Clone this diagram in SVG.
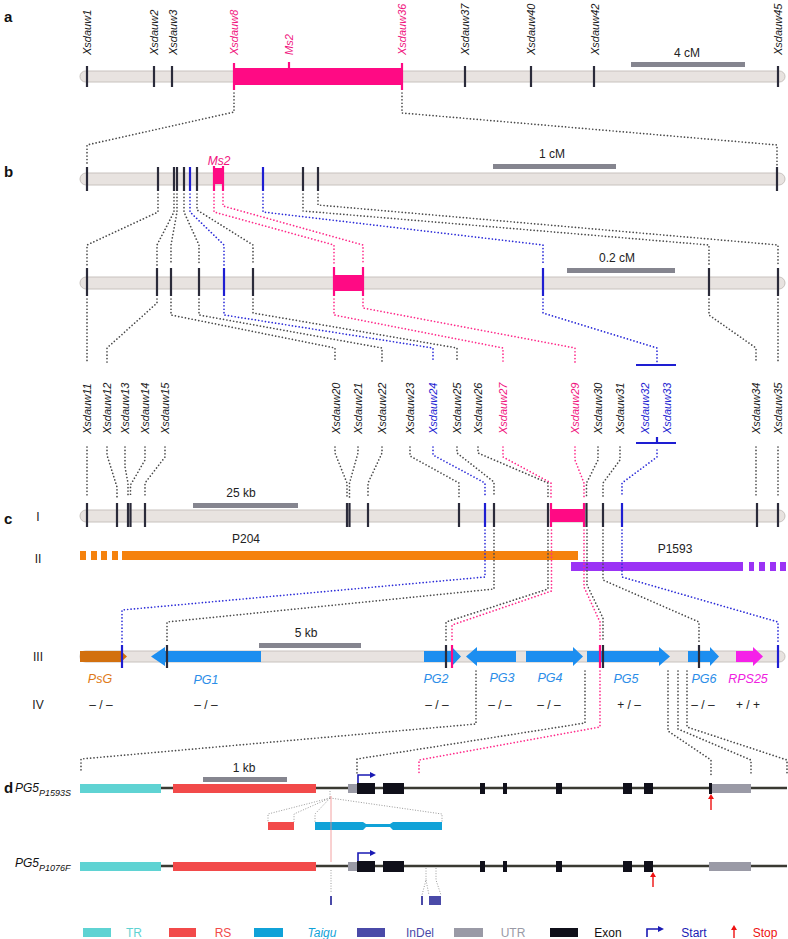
<svg xmlns="http://www.w3.org/2000/svg" width="788" height="939" viewBox="0 0 788 939">
<style>
text{font-family:"Liberation Sans",Arial,sans-serif}
.bar{fill:#e8e3e0;stroke:#c8c2be;stroke-width:1}
.tk{stroke:#2b2b3a;stroke-width:2.2}
.tb{stroke:#1e1ed2;stroke-width:2.2}
.tp{stroke:#ff0a84;stroke-width:2.2}
.d{fill:none;stroke-width:1.7;stroke-dasharray:0.01 3.4;stroke-linecap:round}
.dk{stroke:#4a4a4a}
.dp{stroke:#ff2a8a}
.db{stroke:#2a2ad8}
.df{fill:none;stroke:#9a9a9a;stroke-width:1;stroke-dasharray:1 1.6}
.ml{font-size:11px;font-style:italic;fill:#1a1a1a}
.mb{fill:#1e1ed2}
.mp{fill:#f0147e}
.sc{fill:#85858f}
.st{font-size:12px;fill:#222;text-anchor:middle}
.pl{font-size:15px;font-weight:bold;fill:#111}
.rl{font-size:12px;fill:#222;text-anchor:middle}
.gl{font-size:12.5px;font-style:italic;text-anchor:middle}
.gb{fill:#1c8ef0}
.gt{font-size:12px;fill:#222;text-anchor:middle}
.gln{stroke:#3a3a32;stroke-width:2.5}
.tr{fill:#5fd3d3}
.rs{fill:#f24a4a}
.tg{fill:#10a2d8}
.utr{fill:#9a9aa6}
.ex{fill:#10101a}
.lg{font-size:12px;text-anchor:middle}
</style>

<!-- Panel a -->
<g id="panel-a">
<text class="pl" x="4" y="22">a</text>
<rect class="bar" x="80" y="71" width="705" height="11" rx="5.5"/>
<rect x="234" y="68" width="168" height="17" fill="#ff0a84"/>
<line class="tp" x1="234" y1="63" x2="234" y2="90"/>
<line class="tp" x1="402" y1="63" x2="402" y2="90"/>
<line class="tp" x1="289" y1="62" x2="289" y2="69"/>
<g class="tk">
<line x1="87" y1="66" x2="87" y2="87"/><line x1="154" y1="66" x2="154" y2="87"/><line x1="172" y1="66" x2="172" y2="87"/>
<line x1="465" y1="66" x2="465" y2="87"/><line x1="531" y1="66" x2="531" y2="87"/><line x1="594" y1="66" x2="594" y2="87"/><line x1="778" y1="66" x2="778" y2="87"/>
</g>
<rect class="sc" x="631" y="62" width="114" height="5"/>
<text class="st" x="687" y="57">4 cM</text>
<text class="ml" transform="translate(91,55) rotate(-90)">Xsdauw1</text>
<text class="ml" transform="translate(158,55) rotate(-90)">Xsdauw2</text>
<text class="ml" transform="translate(177,55) rotate(-90)">Xsdauw3</text>
<text class="ml mp" transform="translate(238,55) rotate(-90)">Xsdauw8</text>
<text class="ml mp" transform="translate(293,55) rotate(-90)">Ms2</text>
<text class="ml mp" transform="translate(406,55) rotate(-90)">Xsdauw36</text>
<text class="ml" transform="translate(469,55) rotate(-90)">Xsdauw37</text>
<text class="ml" transform="translate(535,55) rotate(-90)">Xsdauw40</text>
<text class="ml" transform="translate(599,55) rotate(-90)">Xsdauw42</text>
<text class="ml" transform="translate(782,55) rotate(-90)">Xsdauw45</text>
</g>

<!-- Panel b -->
<g id="panel-b">
<text class="pl" x="4" y="177">b</text>
<rect class="bar" x="80" y="173" width="705" height="12" rx="6"/>
<rect x="214" y="168" width="9" height="16" fill="#ff0a84"/>
<line class="tp" x1="214" y1="166" x2="214" y2="191"/>
<line class="tp" x1="223" y1="166" x2="223" y2="191"/>
<text class="gl mp" x="219" y="165" style="font-size:12px">Ms2</text>
<g class="tk">
<line x1="87" y1="167" x2="87" y2="191"/><line x1="158" y1="167" x2="158" y2="191"/><line x1="174" y1="167" x2="174" y2="191"/><line x1="177" y1="167" x2="177" y2="191"/><line x1="184" y1="167" x2="184" y2="191"/><line x1="197" y1="167" x2="197" y2="191"/><line x1="303" y1="167" x2="303" y2="191"/><line x1="318" y1="167" x2="318" y2="191"/><line x1="777" y1="167" x2="777" y2="191"/>
</g>
<g class="tb"><line x1="190" y1="167" x2="190" y2="191"/><line x1="263" y1="167" x2="263" y2="191"/></g>
<rect class="sc" x="493" y="164" width="123" height="5"/>
<text class="st" x="552" y="158">1 cM</text>

<rect class="bar" x="80" y="277" width="705" height="12" rx="6"/>
<rect x="334" y="275" width="29" height="16" fill="#ff0a84"/>
<line class="tp" x1="334" y1="267" x2="334" y2="296"/>
<line class="tp" x1="363" y1="267" x2="363" y2="296"/>
<g class="tk">
<line x1="87" y1="268" x2="87" y2="296"/><line x1="157" y1="268" x2="157" y2="296"/><line x1="171" y1="268" x2="171" y2="296"/><line x1="199" y1="268" x2="199" y2="296"/><line x1="253" y1="268" x2="253" y2="296"/><line x1="709" y1="268" x2="709" y2="296"/><line x1="778" y1="268" x2="778" y2="296"/>
</g>
<g class="tb"><line x1="224" y1="268" x2="224" y2="296"/><line x1="543" y1="268" x2="543" y2="296"/></g>
<rect class="sc" x="567" y="268" width="108" height="5"/>
<text class="st" x="617" y="262">0.2 cM</text>

<text class="ml" transform="translate(91,434) rotate(-90)">Xsdauw11</text>
<text class="ml" transform="translate(111,434) rotate(-90)">Xsdauw12</text>
<text class="ml" transform="translate(129,434) rotate(-90)">Xsdauw13</text>
<text class="ml" transform="translate(149,434) rotate(-90)">Xsdauw14</text>
<text class="ml" transform="translate(169,434) rotate(-90)">Xsdauw15</text>
<text class="ml" transform="translate(340,434) rotate(-90)">Xsdauw20</text>
<text class="ml" transform="translate(362,434) rotate(-90)">Xsdauw21</text>
<text class="ml" transform="translate(386,434) rotate(-90)">Xsdauw22</text>
<text class="ml" transform="translate(414,434) rotate(-90)">Xsdauw23</text>
<text class="ml mb" transform="translate(437,434) rotate(-90)">Xsdauw24</text>
<text class="ml" transform="translate(461,434) rotate(-90)">Xsdauw25</text>
<text class="ml" transform="translate(482,434) rotate(-90)">Xsdauw26</text>
<text class="ml mp" transform="translate(507,434) rotate(-90)">Xsdauw27</text>
<text class="ml mp" transform="translate(579,434) rotate(-90)">Xsdauw29</text>
<text class="ml" transform="translate(602,434) rotate(-90)">Xsdauw30</text>
<text class="ml" transform="translate(624,434) rotate(-90)">Xsdauw31</text>
<text class="ml mb" transform="translate(649,434) rotate(-90)">Xsdauw32</text>
<text class="ml mb" transform="translate(671,434) rotate(-90)">Xsdauw33</text>
<text class="ml" transform="translate(760,434) rotate(-90)">Xsdauw34</text>
<text class="ml" transform="translate(782,434) rotate(-90)">Xsdauw35</text>
<g class="tb">
<line x1="636" y1="365" x2="676" y2="365"/>
<line x1="636" y1="443" x2="676" y2="443"/>
<line x1="657" y1="437" x2="657" y2="443"/>
</g>
</g>

<!-- Panel c -->
<g id="panel-c">
<text class="pl" x="4" y="524">c</text>
<text class="rl" x="38" y="521">I</text>
<rect class="bar" x="80" y="510" width="705" height="12" rx="6"/>
<rect x="551" y="509" width="33" height="13" fill="#ff0a84"/>
<line class="tp" x1="551" y1="503" x2="551" y2="527"/>
<line class="tp" x1="584" y1="503" x2="584" y2="527"/>
<g class="tk">
<line x1="87" y1="503" x2="87" y2="527"/><line x1="117" y1="503" x2="117" y2="527"/><line x1="128" y1="503" x2="128" y2="527"/><line x1="130.5" y1="503" x2="130.5" y2="527"/><line x1="145" y1="503" x2="145" y2="527"/><line x1="347" y1="503" x2="347" y2="527"/><line x1="349.5" y1="503" x2="349.5" y2="527"/><line x1="368" y1="503" x2="368" y2="527"/><line x1="459" y1="503" x2="459" y2="527"/><line x1="494" y1="503" x2="494" y2="527"/><line x1="548" y1="503" x2="548" y2="527"/><line x1="586.5" y1="503" x2="586.5" y2="527"/><line x1="603" y1="503" x2="603" y2="527"/><line x1="757" y1="503" x2="757" y2="527"/><line x1="778" y1="503" x2="778" y2="527"/>
</g>
<g class="tb"><line x1="485" y1="503" x2="485" y2="527"/><line x1="622" y1="503" x2="622" y2="527"/></g>
<rect class="sc" x="193" y="503" width="105" height="5"/>
<text class="st" x="241" y="497">25 kb</text>

<text class="rl" x="38" y="563">II</text>
<g fill="#f5820d">
<rect x="80" y="551" width="6" height="9"/><rect x="91" y="551" width="6" height="9"/><rect x="101" y="551" width="6" height="9"/><rect x="112" y="551" width="6" height="9"/>
<rect x="122" y="551" width="456" height="9"/>
</g>
<text class="st" x="246" y="543">P204</text>
<g fill="#9b33f5">
<rect x="571" y="562" width="172" height="9"/>
<rect x="749" y="562" width="5" height="9"/><rect x="759" y="562" width="6" height="9"/><rect x="770" y="562" width="6" height="9"/><rect x="780" y="562" width="6" height="9"/>
</g>
<text class="st" x="675" y="553">P1593</text>

<text class="rl" x="38" y="661">III</text>
<rect class="bar" x="80" y="651" width="705" height="11" rx="5.5"/>
<path d="M80,651 H121 L127,656.5 L121,662 H80 Z" fill="#d2700f"/>
<path class="gb" d="M151,656.5 L165,647 V651 H261 V662 H165 V666 Z"/>
<path class="gb" d="M424,651 H452 V647 L461,656.5 L452,666 V662 H424 Z"/>
<path class="gb" d="M466,656.5 L477,647 V651 H516 V662 H477 V666 Z"/>
<path class="gb" d="M526,651 H573 V647 L583,656.5 L573,666 V662 H526 Z"/>
<path class="gb" d="M587,651 H659 V647 L670,656.5 L659,666 V662 H587 Z"/>
<path class="gb" d="M688,651 H710 V647 L719,656.5 L710,666 V662 H688 Z"/>
<path d="M736,651 H753 V647 L763,656.5 L753,666 V662 H736 Z" fill="#f521e8"/>
<g class="tk"><line x1="167" y1="645" x2="167" y2="668"/><line x1="446" y1="645" x2="446" y2="668"/><line x1="603" y1="645" x2="603" y2="668"/><line x1="699" y1="645" x2="699" y2="668"/></g>
<g class="tb"><line x1="122" y1="645" x2="122" y2="668"/><line x1="778" y1="645" x2="778" y2="668"/></g>
<g class="tp"><line x1="452" y1="645" x2="452" y2="668"/><line x1="600" y1="645" x2="600" y2="668"/></g>
<rect class="sc" x="259" y="643" width="102" height="5"/>
<text class="st" x="306" y="637">5 kb</text>
<text class="gl" x="100" y="683" fill="#e07a18">PsG</text>
<text class="gl" x="206" y="684" fill="#2b8de8">PG1</text>
<text class="gl" x="436" y="683" fill="#2b8de8">PG2</text>
<text class="gl" x="502" y="682" fill="#2b8de8">PG3</text>
<text class="gl" x="550" y="682" fill="#2b8de8">PG4</text>
<text class="gl" x="626" y="683" fill="#2b8de8">PG5</text>
<text class="gl" x="704" y="683" fill="#2b8de8">PG6</text>
<text class="gl" x="748" y="683" fill="#f020e0">RPS25</text>

<text class="rl" x="38" y="709">IV</text>
<text class="gt" x="101" y="709">– / –</text>
<text class="gt" x="206" y="709">– / –</text>
<text class="gt" x="437" y="709">– / –</text>
<text class="gt" x="500" y="709">– / –</text>
<text class="gt" x="549" y="709">– / –</text>
<text class="gt" x="629" y="709">+ / –</text>
<text class="gt" x="703" y="709">– / –</text>
<text class="gt" x="748" y="709">+ / +</text>
</g>

<!-- Panel d -->
<g id="panel-d">
<text class="pl" x="4" y="793">d</text>
<text x="15" y="792" style="font-size:12px;font-style:italic" fill="#111">PG5<tspan dy="4" style="font-size:9px">P1593S</tspan></text>
<line class="gln" x1="80" y1="788" x2="787" y2="788"/>
<rect class="tr" x="80" y="784" width="81" height="9"/>
<rect class="rs" x="173" y="784" width="143" height="9"/>
<rect class="utr" x="348" y="784" width="9" height="9"/>
<g class="ex">
<rect x="357" y="783" width="18" height="11"/><rect x="383" y="783" width="21" height="11"/><rect x="480" y="783" width="5" height="11"/><rect x="503" y="783" width="4" height="11"/><rect x="556" y="783" width="6" height="11"/><rect x="623" y="783" width="9" height="11"/><rect x="644" y="783" width="9" height="11"/><rect x="709" y="783" width="3" height="11"/>
</g>
<rect class="utr" x="712" y="784" width="39" height="9"/>
<rect class="sc" x="203" y="777" width="84" height="5"/>
<text class="st" x="244" y="772">1 kb</text>
<path d="M358,783 V775 H371" fill="none" stroke="#1a1ab4" stroke-width="1.6"/>
<path d="M370,772 L376,775 L370,778 Z" fill="#1a1ab4"/>
<line x1="711" y1="810" x2="711" y2="798" stroke="#ee1111" stroke-width="1.4"/>
<path d="M708,799 L711,794 L714,799 Z" fill="#ee1111"/>

<rect class="rs" x="268" y="822" width="26" height="8"/>
<path class="tg" d="M315,822 H363 L366,824 H390 L393,822 H442 V830 H393 L390,827 H366 L363,830 H315 Z"/>
<path class="df" d="M330,791 V798 M330,798 L268,814 V822 M330,798 L294,814 V822 M330,798 L315,814 V822 M330,798 L442,814 V822"/>
<line x1="331" y1="796" x2="331" y2="862" stroke="#f08a8a" stroke-width="0.8"/>

<text x="15" y="867" style="font-size:12px;font-style:italic" fill="#111">PG5<tspan dy="4" style="font-size:9px">P1076F</tspan></text>
<line class="gln" x1="80" y1="866" x2="787" y2="866"/>
<rect class="tr" x="80" y="862" width="81" height="9"/>
<rect class="rs" x="173" y="862" width="143" height="9"/>
<rect class="utr" x="348" y="862" width="9" height="9"/>
<g class="ex">
<rect x="357" y="861" width="18" height="11"/><rect x="383" y="861" width="21" height="11"/><rect x="480" y="861" width="5" height="11"/><rect x="503" y="861" width="4" height="11"/><rect x="556" y="861" width="6" height="11"/><rect x="623" y="861" width="9" height="11"/><rect x="644" y="861" width="9" height="11"/>
</g>
<rect class="utr" x="709" y="862" width="42" height="9"/>
<path d="M358,861 V853 H371" fill="none" stroke="#1a1ab4" stroke-width="1.6"/>
<path d="M370,850 L376,853 L370,856 Z" fill="#1a1ab4"/>
<line x1="653" y1="887" x2="653" y2="876" stroke="#ee1111" stroke-width="1.4"/>
<path d="M650,877 L653,872 L656,877 Z" fill="#ee1111"/>

<path class="df" d="M331,870 V893 M426,868 V880 L422,895 M426,880 L429,895 M436,868 V880 L441,895"/>
<g fill="#4a4aa8">
<rect x="330" y="896" width="2" height="9"/>
<rect x="421" y="896" width="2" height="9"/>
<rect x="429" y="896" width="12" height="9"/>
</g>

<!-- legend -->
<rect class="tr" x="83" y="928" width="28" height="9"/>
<text class="lg" x="134" y="937" fill="#5fd3d3">TR</text>
<rect class="rs" x="169" y="928" width="27" height="9"/>
<text class="lg" x="223" y="937" fill="#f24a4a">RS</text>
<rect class="tg" x="254" y="928" width="29" height="9"/>
<text class="lg" x="322" y="937" fill="#10a2d8" style="font-style:italic">Taigu</text>
<rect x="357" y="928" width="28" height="9" fill="#4a4aa8"/>
<text class="lg" x="420" y="937" fill="#4a4aa8">InDel</text>
<rect class="utr" x="454" y="928" width="29" height="9"/>
<text class="lg" x="513" y="937" fill="#9a9aa6">UTR</text>
<rect class="ex" x="550" y="928" width="28" height="9"/>
<text class="lg" x="608" y="937" fill="#111">Exon</text>
<path d="M647,937 V929 H659" fill="none" stroke="#1a1ab4" stroke-width="1.6"/>
<path d="M658,926 L664,929 L658,932 Z" fill="#1a1ab4"/>
<text class="lg" x="694" y="937" fill="#1a1ab4">Start</text>
<line x1="734" y1="938" x2="734" y2="929" stroke="#ee1111" stroke-width="1.4"/>
<path d="M731,930 L734,925 L737,930 Z" fill="#ee1111"/>
<text class="lg" x="765" y="937" fill="#ee1111">Stop</text>
</g>

<!-- Connectors -->
<g id="connectors">
<!-- a to b -->
<path class="d dk" d="M234,93 V112 L87,145 V165"/>
<path class="d dk" d="M402,93 V113 L777,145 V165"/>
<!-- b1 to b2 -->
<path class="d dk" d="M158,194 V212 L87,245 V265"/>
<path class="d dk" d="M174,194 V212 L157,245 V265"/>
<path class="d dk" d="M177,194 V212 L171,245 V265"/>
<path class="d dk" d="M184,194 V212 L199,245 V265"/>
<path class="d db" d="M190,194 V212 L224,245 V265"/>
<path class="d dk" d="M197,194 V210 L253,245 V265"/>
<path class="d dp" d="M214,194 V212 L334,245 V264"/>
<path class="d dp" d="M223,194 V206 L363,245 V264"/>
<path class="d db" d="M263,194 V212 L543,245 V265"/>
<path class="d dk" d="M303,194 V211 L709,245 V265"/>
<path class="d dk" d="M318,194 V205 L778,245 V265"/>
<!-- b2 to marker labels -->
<path class="d dk" d="M87,299 V362"/>
<path class="d dk" d="M157,299 V303 L107,348 V362"/>
<path class="d dk" d="M171,299 V315 L335,348 V362"/>
<path class="d dk" d="M199,299 V315 L382,348 V362"/>
<path class="d db" d="M224,299 V315 L433,348 V362"/>
<path class="d dk" d="M253,299 V313 L457,348 V362"/>
<path class="d dp" d="M334,299 V315 L503,348 V362"/>
<path class="d dp" d="M363,299 V308 L575,348 V362"/>
<path class="d db" d="M543,299 V313 L657,348 V362"/>
<path class="d dk" d="M709,299 V315 L756,348 V362"/>
<path class="d dk" d="M778,299 V362"/>
<!-- marker labels to c I -->
<path class="d dk" d="M87,447 V497"/>
<path class="d dk" d="M107,447 V455 L117,487 V497"/>
<path class="d dk" d="M125,447 V467 L128,483 V497"/>
<path class="d dk" d="M145,447 V460 L130.5,485 V497"/>
<path class="d dk" d="M165,447 V457 L145,483 V497"/>
<path class="d dk" d="M335,447 V453 L347,483 V497"/>
<path class="d dk" d="M358,447 V453 L349.5,483 V497"/>
<path class="d dk" d="M382,447 V453 L368,483 V497"/>
<path class="d dk" d="M410,447 V456 L459,483 V497"/>
<path class="d db" d="M433,447 V455 L485,483 V497"/>
<path class="d dk" d="M457,447 V453 L494,482 V497"/>
<path class="d dk" d="M478,447 V453 L548,483 V497"/>
<path class="d dp" d="M503,447 V457 L551,483 V497"/>
<path class="d dp" d="M575,447 V460 L584,483 V497"/>
<path class="d dk" d="M598,447 V460 L586.5,483 V497"/>
<path class="d dk" d="M620,447 V460 L603,483 V497"/>
<path class="d db" d="M657,450 V457 L622,483 V497"/>
<path class="d dk" d="M756,447 V497"/>
<path class="d dk" d="M778,447 V497"/>
<!-- c I to III -->
<path class="d db" d="M485,530 V577 L122,610 V642"/>
<path class="d dk" d="M494,530 V589 L167,622 V642"/>
<path class="d dk" d="M548,530 V589 L446,622 V642"/>
<path class="d dp" d="M551.5,530 V591 L452,625 V642"/>
<path class="d dp" d="M584,530 V587 L600,622 V642"/>
<path class="d dk" d="M587,530 V585 L603,618 V642"/>
<path class="d dk" d="M603,530 V580 L699,622 V642"/>
<path class="d db" d="M622,530 V577 L778,622 V642"/>
<!-- III to d -->
<path class="d dk" d="M476,671 V724 L81,759 V773"/>
<path class="d dk" d="M585,671 V723 L357,759 V773"/>
<path class="d dp" d="M600,671 V727 L419,760 V773"/>
<path class="d dk" d="M668,671 V731 L711,760 V776"/>
<path class="d dk" d="M678,671 V729 L751,760 V776"/>
<path class="d dk" d="M687,671 V727 L787,760 V776"/>
</g>
</svg>
